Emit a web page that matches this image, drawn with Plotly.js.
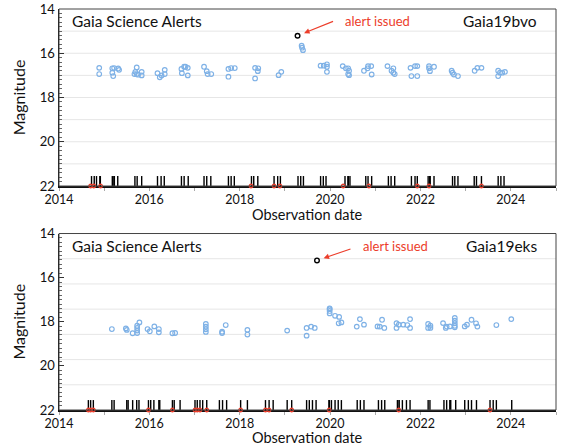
<!DOCTYPE html>
<html>
<head>
<meta charset="utf-8">
<script src="https://cdn.plot.ly/plotly-3.0.1.min.js"></script>
<style>html,body{margin:0;padding:0;background:#fff;}#chart{width:562px;height:447px;}</style>
</head>
<body>
<div id="chart"></div>
<script>
// ---------- Gaia19bvo (top panel) ----------
const bvoTime = [2014.89,2014.89,
  2015.18,2015.18,2015.20,2015.22,2015.31,2015.33,
  2015.72,2015.69,2015.67,2015.72,2015.75,2015.83,2015.83,
  2016.18,2016.23,2016.27,2016.34,2016.34,
  2016.71,2016.72,2016.77,2016.80,2016.85,2016.85,
  2017.21,2017.27,2017.29,2017.37,
  2017.75,2017.75,2017.81,2017.89,
  2018.34,2018.34,2018.40,2018.41,
  2018.86,2018.92,
  2019.37,2019.38,2019.40,
  2019.79,2019.86,2019.93,2019.93,2019.93,
  2020.28,2020.35,2020.40,2020.42,2020.40,2020.42,
  2020.75,2020.83,2020.84,2020.91,2020.92,
  2021.27,2021.36,2021.40,2021.40,2021.43,
  2021.78,2021.88,2021.93,2021.80,2021.93,
  2022.19,2022.19,2022.21,2022.30,
  2022.69,2022.71,2022.74,2022.83,
  2023.20,2023.26,2023.35,
  2023.72,2023.76,2023.81,2023.87,2023.72];
const bvoMag = [16.66,16.94,
  16.68,16.88,17.03,16.67,16.69,16.75,
  16.64,16.84,16.94,16.94,16.97,16.84,17.00,
  16.90,17.09,17.00,16.75,16.94,
  16.71,16.90,16.61,16.61,16.66,17.00,
  16.61,16.81,16.94,16.94,
  16.71,17.06,16.67,16.67,
  16.66,17.14,16.81,16.68,
  16.99,16.84,
  15.66,15.75,15.86,
  16.56,16.56,16.50,16.61,16.84,
  16.58,16.68,16.68,16.79,16.94,16.99,
  16.79,16.68,16.58,16.58,16.96,
  16.58,16.79,16.68,16.88,16.94,
  16.66,16.58,16.58,17.03,17.03,
  16.58,16.68,16.81,16.61,
  16.79,16.88,16.96,17.03,
  16.79,16.66,16.66,
  16.79,16.88,16.88,16.84,17.03];
const bvoAlertTime = [2019.28];
const bvoAlertMag = [15.21];
const bvoScans = [2014.72,2014.78,2014.83,2014.905,2014.915,2015.18,2015.215,2015.225,2015.30,
  2015.68,2015.73,2015.83,2016.18,2016.26,2016.33,2016.71,2016.77,2016.86,
  2017.21,2017.27,2017.36,2017.75,2017.81,2017.88,2018.26,2018.31,2018.40,
  2018.76,2018.84,2018.90,2019.29,2019.35,2019.41,2019.79,2019.85,2019.91,
  2020.33,2020.395,2020.405,2020.44,2020.79,2020.84,2020.92,2021.29,2021.35,2021.43,
  2021.80,2021.88,2021.93,2022.17,2022.205,2022.215,2022.30,2022.71,2022.76,2022.83,
  2023.19,2023.24,2023.35,2023.72,2023.78,2023.85];
const bvoRed = [2014.70,2014.77,2014.92,2018.25,2018.76,2018.89,2020.29,2020.86,2021.93,2022.19,2023.35];

// ---------- Gaia19eks (bottom panel) ----------
const eksTime = [2015.17,2015.48,2015.50,2015.63,2015.73,2015.73,2015.73,2015.73,2015.78,
  2015.96,2016.01,2016.11,2016.21,2016.21,2016.51,2016.57,
  2017.25,2017.25,2017.25,2017.25,2017.61,2017.61,2017.69,
  2018.17,2018.17,2019.05,2019.48,2019.58,2019.66,2019.48,
  2019.99,2019.99,2019.99,2019.99,2020.11,2020.20,2020.19,2020.25,
  2020.59,2020.66,2020.75,2021.05,2021.10,2021.15,2021.20,
  2021.47,2021.47,2021.52,2021.62,2021.71,2021.77,2021.77,
  2022.17,2022.17,2022.22,2022.22,2022.50,2022.56,2022.58,2022.65,
  2022.76,2022.76,2022.76,2022.76,2022.76,2022.98,2023.03,2023.13,2023.23,2023.26,
  2023.68,2024.01];
const eksMag = [18.33,18.30,18.37,18.52,18.18,18.28,18.40,18.51,18.03,
  18.33,18.43,18.21,18.33,18.48,18.52,18.51,
  18.10,18.22,18.34,18.46,18.51,18.45,18.15,
  18.37,18.58,18.40,18.28,18.22,18.28,18.63,
  17.43,17.51,17.39,17.62,17.73,17.78,18.07,18.03,
  18.22,17.88,18.13,18.21,18.22,17.91,18.28,
  18.06,18.28,18.13,18.13,18.15,17.88,18.28,
  18.10,18.28,18.18,18.28,18.06,18.28,18.22,18.21,
  17.83,17.95,18.07,18.18,18.25,18.21,18.13,17.91,18.07,18.22,
  18.15,17.88];
const eksAlertTime = [2019.71];
const eksAlertMag = [15.22];
const eksScans = [2014.65,2014.70,2014.76,2015.17,2015.22,2015.50,2015.53,2015.63,2015.72,2015.77,
  2015.98,2016.03,2016.10,2016.21,2016.23,2016.51,2016.55,2016.68,
  2017.01,2017.06,2017.12,2017.18,2017.27,2017.55,2017.62,2017.71,2018.02,2018.17,
  2018.57,2018.65,2018.74,2019.05,2019.15,2019.48,2019.54,2019.61,2019.69,
  2019.975,2019.985,2020.03,2020.11,2020.18,2020.25,2020.60,2020.67,2020.75,
  2021.07,2021.14,2021.21,2021.49,2021.50,2021.53,2021.60,2021.69,2021.77,
  2022.17,2022.21,2022.52,2022.58,2022.65,2022.67,2022.78,2022.98,2023.06,2023.13,2023.24,
  2023.54,2023.61,2023.68,2024.02];
const eksRed = [2014.65,2014.70,2014.76,2015.98,2016.51,2017.01,2017.06,2017.12,2017.27,
  2018.02,2018.57,2018.65,2019.15,2019.98,2021.52,2023.54];

const yearTicks = [2014,2015,2016,2017,2018,2019,2020,2021,2022,2023,2024,2025];
const yearLabels = ["2014","","2016","","2018","","2020","","2022","","2024",""];
const magTicks = [14,16,18,20,22];
const magLabels = ["14","16","18","20","22"];
const panelLabels = ["Gaia19bvo","Gaia19eks"];

const FONT = "Lato, 'Open Sans', sans-serif";
const BLUE = "#7eb1e6";
const RED = "#ec3d2a";
const MAG_FAINT = 22, MAG_BRIGHT = 14, RUG_LEN = 0.45;

function panelTraces(t, m, at, am, scans, red, xa, ya) {
  return [
    {x: scans, y: scans.map(() => MAG_FAINT), xaxis: xa, yaxis: ya, type: 'scatter', mode: 'markers',
     marker: {size: 1, color: 'rgba(0,0,0,0)'}, hoverinfo: 'skip', showlegend: false,
     error_y: {type: 'constant', symmetric: false, value: 0, valueminus: RUG_LEN, width: 0, thickness: 1.4, color: '#000'}},
    {x: red, y: red.map(() => MAG_FAINT), xaxis: xa, yaxis: ya, type: 'scatter', mode: 'markers', cliponaxis: false,
     marker: {symbol: 'circle-open', size: 3.5, color: RED, line: {width: 1.3, color: RED}}, showlegend: false},
    {x: t, y: m, xaxis: xa, yaxis: ya, type: 'scatter', mode: 'markers',
     marker: {symbol: 'circle-open', size: 4.6, color: BLUE, line: {width: 1.2, color: BLUE}}, showlegend: false},
    {x: at, y: am, xaxis: xa, yaxis: ya, type: 'scatter', mode: 'markers',
     marker: {symbol: 'circle-open', size: 4.6, color: '#000', line: {width: 1.4, color: '#000'}}, showlegend: false}
  ];
}

const data = [].concat(
  panelTraces(bvoTime, bvoMag, bvoAlertTime, bvoAlertMag, bvoScans, bvoRed, 'x', 'y'),
  panelTraces(eksTime, eksMag, eksAlertTime, eksAlertMag, eksScans, eksRed, 'x2', 'y2')
);

function xAxis(anchor) {
  return {anchor: anchor, range: [2014, 2025], tickvals: yearTicks, ticktext: yearLabels,
    ticks: 'outside', ticklen: 3, tickcolor: '#aaa', tickwidth: 1, ticklabelstandoff: -2,
    showline: true, linecolor: '#111', linewidth: 1.5, mirror: false, showgrid: false, zeroline: false,
    tickfont: {family: FONT, size: 12.5, color: '#111'}, layer: 'below traces'};
}
function yAxis(anchor, domain) {
  return {anchor: anchor, domain: domain, range: [MAG_FAINT, MAG_BRIGHT], tickvals: magTicks, ticktext: magLabels,
    ticks: 'inside', ticklen: 5, tickcolor: '#333', tickwidth: 1,
    minor: {dtick: 0.2, tick0: 14, ticks: 'inside', ticklen: 2.5, tickcolor: '#666', showgrid: false},
    showline: true, linecolor: '#111', linewidth: 1.5, showgrid: false, zeroline: false,
    tickfont: {family: FONT, size: 13, color: '#111'},
    title: {text: 'Magnitude', font: {family: FONT, size: 16, color: '#111'}, standoff: 10}};
}

// grid lines: top panel each magnitude, bottom panel divides range in 7 parts
const shapes = [];
for (let k = 1; k < 8; k++) {
  shapes.push({type: 'line', xref: 'x domain', x0: 0, x1: 1, yref: 'y', y0: 14 + k, y1: 14 + k,
    line: {color: '#e6e6e6', width: 1}, layer: 'below'});
}
for (let k = 1; k < 7; k++) {
  const v = 14 + 8 * k / 7;
  shapes.push({type: 'line', xref: 'x2 domain', x0: 0, x1: 1, yref: 'y2', y0: v, y1: v,
    line: {color: '#e6e6e6', width: 1}, layer: 'below'});
}
// top and right frame
['', '2'].forEach(s => {
  shapes.push({type: 'rect', xref: 'x' + s + ' domain', yref: 'y' + s + ' domain', x0: 0, x1: 1, y0: 0, y1: 1,
    line: {color: '#444', width: 1}, fillcolor: 'rgba(0,0,0,0)', layer: 'above'});
});

const annotations = [];
[['', 0.93, bvoAlertTime, bvoAlertMag, panelLabels[0], 0.571, 37, -15, -0.163],
 ['2', 0.927, eksAlertTime, eksAlertMag, panelLabels[1], 0.608, 35, -12, -0.158]].forEach(p => {
  const [s, yy, at, am, lbl, ax0, ax, ay, ty] = p;
  annotations.push({xref: 'x' + s + ' domain', yref: 'y' + s + ' domain', x: 0.022, y: yy, xanchor: 'left', yanchor: 'middle',
    text: 'Gaia Science Alerts', showarrow: false, font: {family: FONT, size: 15.5, color: '#111'}});
  annotations.push({xref: 'x' + s + ' domain', yref: 'y' + s + ' domain', x: 0.966, y: yy, xanchor: 'right', yanchor: 'middle',
    text: lbl, showarrow: false, font: {family: FONT, size: 15.5, color: '#111'}});
  annotations.push({xref: 'x' + s + ' domain', yref: 'y' + s + ' domain', x: ax0, y: yy + 0.004, xanchor: 'left', yanchor: 'middle',
    text: 'alert issued', showarrow: false, font: {family: FONT, size: 13, color: RED}});
  annotations.push({xref: 'x' + s, yref: 'y' + s, x: at[0], y: am[0], text: '', showarrow: true,
    ax: ax, ay: ay, axref: 'pixel', ayref: 'pixel', arrowhead: 2, arrowsize: 1, arrowwidth: 1.1, arrowcolor: RED, standoff: 7});
  // x-axis title
  annotations.push({xref: 'x' + s + ' domain', yref: 'y' + s + ' domain', x: 0.5, y: ty, xanchor: 'center', yanchor: 'middle',
    text: 'Observation date', showarrow: false, borderpad: 0, font: {family: FONT, size: 14.5, color: '#111'}});
});

const layout = {
  width: 562, height: 447,
  margin: {l: 59, r: 6, t: 9, b: 37},
  paper_bgcolor: '#fff', plot_bgcolor: '#fff',
  showlegend: false,
  xaxis: xAxis('y'),
  yaxis: yAxis('x', [0.5586, 1]),
  xaxis2: xAxis('y2'),
  yaxis2: yAxis('x2', [0, 0.4401]),
  shapes: shapes,
  annotations: annotations
};

Plotly.newPlot('chart', data, layout, {displayModeBar: false, staticPlot: true});
</script>
</body>
</html>
